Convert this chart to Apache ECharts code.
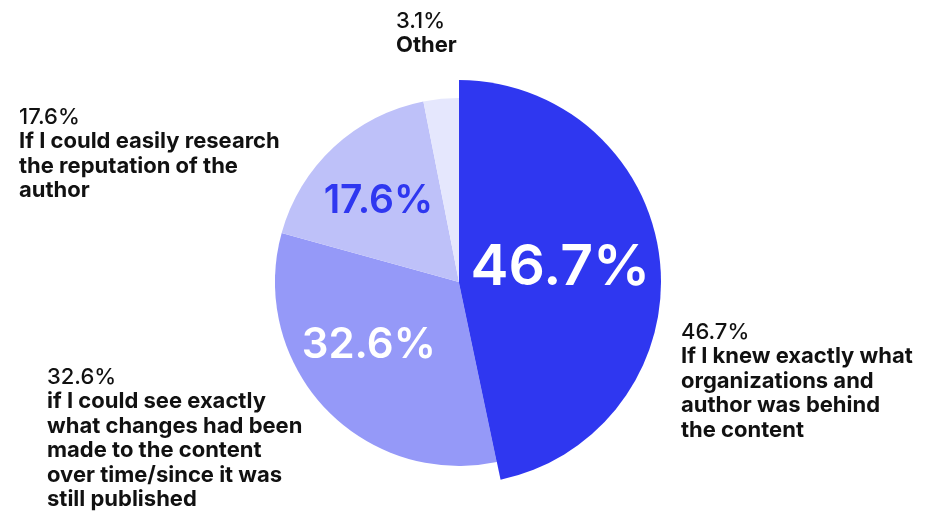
<!DOCTYPE html>
<html>
<head>
<meta charset="utf-8">
<script src="https://cdn.jsdelivr.net/npm/echarts@6/dist/echarts.min.js"></script>
<style>
  html, body { margin: 0; padding: 0; background: #ffffff; }
  #chart { width: 937px; height: 514px; }
</style>
</head>
<body>
<div id="chart"></div>
<script>
// Survey answers, clockwise from 12 o'clock
const categories = [
  'If I knew exactly what\norganizations and\nauthor was behind\nthe content',
  'if I could see exactly\nwhat changes had been\nmade to the content\nover time/since it was\nstill published',
  'If I could easily research\nthe reputation of the\nauthor',
  'Other'
];
const values = [46.7, 32.6, 17.6, 3.1];
const colors = ['#2F37F0', '#9599F8', '#BEC1F9', '#E5E7FD'];

const FONT = 'Inter, "Noto Sans", sans-serif';
const CENTER = [459, 282];

// Top-left corner of each outside caption block
const captionPos = [[681, 320], [47, 365], [19, 105], [396, 9]];

// Inside value labels: style per slice
const insideStyle = [
  { color: '#ffffff', fontSize: 57, offset: [-2, -3] },
  { color: '#ffffff', fontSize: 42, offset: [-21, -2] },
  { color: '#2F37F0', fontSize: 39, offset: [-16, -11] },
  null
];

const pct = v => v.toFixed(1) + '%';

const chart = echarts.init(document.getElementById('chart'), null, { renderer: 'canvas' });

const baseData = categories.map((name, i) => ({
  name, value: values[i],
  itemStyle: { color: colors[i] },
  label: insideStyle[i] && i !== 0 ? {
    show: true, position: 'inside', formatter: pct(values[i]),
    color: insideStyle[i].color, fontSize: insideStyle[i].fontSize,
    fontWeight: 600, fontFamily: FONT, offset: insideStyle[i].offset
  } : { show: false }
}));

// The leading slice is drawn with a larger radius
const leadData = categories.map((name, i) => ({
  name, value: values[i],
  itemStyle: { color: i === 0 ? colors[0] : 'rgba(0,0,0,0)' },
  label: i === 0 ? {
    show: true, position: 'inside', formatter: pct(values[0]),
    color: insideStyle[0].color, fontSize: insideStyle[0].fontSize,
    fontWeight: 600, fontFamily: FONT, offset: insideStyle[0].offset
  } : { show: false }
}));

const captionData = categories.map((name, i) => ({
  name, value: values[i],
  itemStyle: { color: 'rgba(0,0,0,0)' }
}));

chart.setOption({
  animation: false,
  series: [
    {
      type: 'pie', center: CENTER, radius: [0, 184],
      startAngle: 90, clockwise: true, silent: true,
      avoidLabelOverlap: false, labelLine: { show: false },
      data: baseData
    },
    {
      type: 'pie', center: CENTER, radius: [0, 202],
      startAngle: 90, clockwise: true, silent: true,
      avoidLabelOverlap: false, labelLine: { show: false },
      data: leadData
    },
    {
      type: 'pie', center: CENTER, radius: [0, 202],
      startAngle: 90, clockwise: true, silent: true,
      avoidLabelOverlap: false, labelLine: { show: false },
      label: {
        show: true, position: 'outside',
        formatter: p => '{p|' + pct(p.value) + '}\n' +
          p.name.split('\n').map(l => '{d|' + l + '}').join('\n'),
        rich: {
          p: { fontFamily: FONT, fontSize: 22, fontWeight: 500, color: '#111111', lineHeight: 24.5 },
          d: { fontFamily: FONT, fontSize: 22, fontWeight: 700, color: '#111111', lineHeight: 24.5 }
        }
      },
      labelLayout: p => ({
        x: captionPos[p.dataIndex][0],
        y: captionPos[p.dataIndex][1],
        align: 'left', verticalAlign: 'top'
      }),
      data: captionData
    }
  ]
});
</script>
</body>
</html>
